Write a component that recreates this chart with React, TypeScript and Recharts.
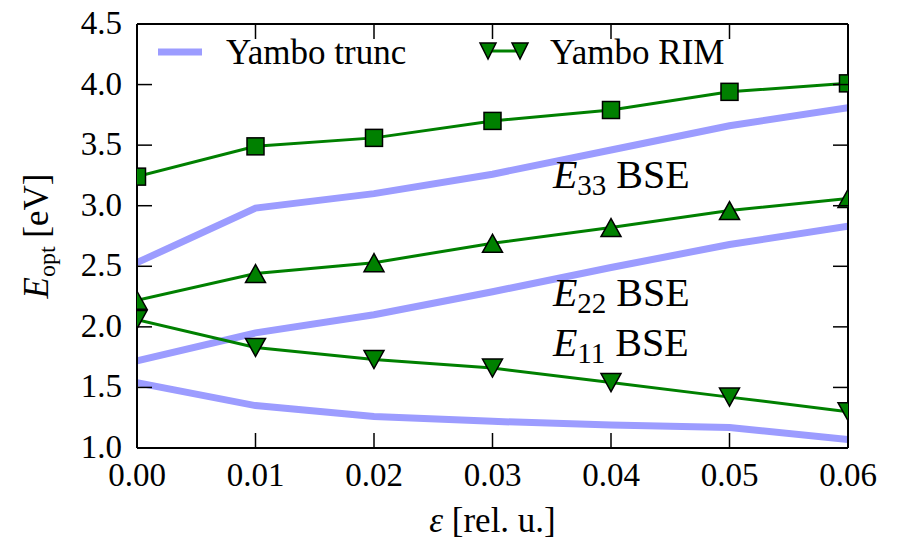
import React from 'react';
import { LineChart, Line, XAxis, YAxis, Legend, ReferenceDot } from 'recharts';

const strain = [0.0, 0.01, 0.02, 0.03, 0.04, 0.05, 0.06];
const e33Rim = [3.24, 3.49, 3.56, 3.70, 3.79, 3.94, 4.01];
const e33Trunc = [2.53, 2.98, 3.10, 3.26, 3.46, 3.66, 3.81];
const e22Rim = [2.22, 2.44, 2.53, 2.69, 2.82, 2.96, 3.06];
const e22Trunc = [1.72, 1.95, 2.10, 2.29, 2.49, 2.68, 2.83];
const e11Rim = [2.06, 1.83, 1.73, 1.66, 1.54, 1.42, 1.30];
const e11Trunc = [1.54, 1.35, 1.26, 1.22, 1.19, 1.17, 1.07];

const xTicks = [0, 0.01, 0.02, 0.03, 0.04, 0.05, 0.06];
const yTicks = [1.0, 1.5, 2.0, 2.5, 3.0, 3.5, 4.0, 4.5];

const legendLabels = ['Yambo trunc', 'Yambo RIM'];
const annotations = [
  { x: 0.0351, y: 3.146, sub: '33', text: ' BSE' },
  { x: 0.0351, y: 2.172, sub: '22', text: ' BSE' },
  { x: 0.0351, y: 1.759, sub: '11', text: ' BSE' },
];

const data = strain.map((s, i) => ({
  s,
  e33Rim: e33Rim[i],
  e33Trunc: e33Trunc[i],
  e22Rim: e22Rim[i],
  e22Trunc: e22Trunc[i],
  e11Rim: e11Rim[i],
  e11Trunc: e11Trunc[i],
}));

const FONT = '"Liberation Serif", "Times New Roman", Times, serif';
const GREEN = '#008000';
const BLUE = '#9c9cff';
const TICK_LEN = 15;
const TICK_W = 1.5;

const SquareDot = (props: any) => {
  const { cx, cy, index } = props;
  if (cx == null || cy == null) return <g key={`sq-${index}`} />;
  return (
    <rect key={`sq-${index}`} x={cx - 8.5} y={cy - 8.5} width={17} height={17}
      fill={GREEN} stroke="#000" strokeWidth={1.5} />
  );
};

const TriUpDot = (props: any) => {
  const { cx, cy, index } = props;
  if (cx == null || cy == null) return <g key={`tu-${index}`} />;
  return (
    <polygon key={`tu-${index}`}
      points={`${cx},${cy - 9} ${cx - 10},${cy + 9} ${cx + 10},${cy + 9}`}
      fill={GREEN} stroke="#000" strokeWidth={1.5} />
  );
};

const TriDownDot = (props: any) => {
  const { cx, cy, index } = props;
  if (cx == null || cy == null) return <g key={`td-${index}`} />;
  return (
    <polygon key={`td-${index}`}
      points={`${cx},${cy + 9} ${cx - 10},${cy - 9} ${cx + 10},${cy - 9}`}
      fill={GREEN} stroke="#000" strokeWidth={1.5} />
  );
};

// bottom axis: tickSize 0, tickMargin 14 -> axis line at y - 14
const BottomTick = (props: any) => {
  const { x, y, payload } = props;
  const axisY = y - 14;
  return (
    <g>
      <line x1={x} y1={axisY} x2={x} y2={axisY - TICK_LEN} stroke="#000" strokeWidth={TICK_W} />
      <text x={x} y={y + 24} textAnchor="middle" fontSize={33} fontFamily={FONT} fill="#000">
        {Number(payload.value).toFixed(2)}
      </text>
    </g>
  );
};

// left axis: tickSize 0, tickMargin 15 -> axis line at x + 15
const LeftTick = (props: any) => {
  const { x, y, payload } = props;
  const axisX = x + 15;
  return (
    <g>
      <line x1={axisX} y1={y} x2={axisX + TICK_LEN} y2={y} stroke="#000" strokeWidth={TICK_W} />
      <text x={x} y={y + 10} textAnchor="end" fontSize={33} fontFamily={FONT} fill="#000">
        {Number(payload.value).toFixed(1)}
      </text>
    </g>
  );
};

const TopTick = (props: any) => {
  const { x, y } = props;
  return <line x1={x} y1={y} x2={x} y2={y + TICK_LEN} stroke="#000" strokeWidth={TICK_W} />;
};

const RightTick = (props: any) => {
  const { x, y } = props;
  return <line x1={x} y1={y} x2={x - TICK_LEN} y2={y} stroke="#000" strokeWidth={TICK_W} />;
};

const LegendContent = () => (
  <svg width={720} height={50} style={{ overflow: 'visible' }}>
    <line x1={8} y1={25} x2={52} y2={25} stroke={BLUE} strokeWidth={7} />
    <text x={76} y={37} fontSize={35} fontFamily={FONT} fill="#000">{legendLabels[0]}</text>
    <line x1={338} y1={24} x2={370} y2={24} stroke={GREEN} strokeWidth={3} />
    <polygon points={`338,32 330,16 346,16`} fill={GREEN} stroke="#000" strokeWidth={1.5} />
    <polygon points={`370,32 362,16 378,16`} fill={GREEN} stroke="#000" strokeWidth={1.5} />
    <text x={400} y={37} fontSize={35} fontFamily={FONT} fill="#000">{legendLabels[1]}</text>
  </svg>
);

const YLabel = (props: any) => {
  const vb = props.viewBox || { x: 0, y: 24, width: 137, height: 424 };
  const cx = 48;
  const cy = vb.y + vb.height / 2;
  return (
    <text x={cx} y={cy} transform={`rotate(-90, ${cx}, ${cy})`} textAnchor="middle"
      fontSize={35} fontFamily={FONT} fill="#000">
      <tspan fontStyle="italic">E</tspan>
      <tspan dy={7} fontSize={24}>opt</tspan>
      <tspan dy={-7}> [eV]</tspan>
    </text>
  );
};

const XLabel = (props: any) => {
  const vb = props.viewBox || { x: 137, y: 448, width: 711, height: 96 };
  const cx = vb.x + vb.width / 2;
  const cy = 532;
  return (
    <text x={cx} y={cy} textAnchor="middle" fontSize={35} fontFamily={FONT} fill="#000">
      <tspan fontStyle="italic">ε</tspan>
      <tspan> [rel. u.]</tspan>
    </text>
  );
};

const AnnotationShape = (a: { sub: string; text: string }) => (props: any) => {
  const { cx, cy } = props;
  return (
    <text x={cx} y={cy} fontSize={40} fontFamily={FONT} fill="#000">
      <tspan fontStyle="italic">E</tspan>
      <tspan dy={7} fontSize={29}>{a.sub}</tspan>
      <tspan dy={-7}>{a.text}</tspan>
    </text>
  );
};

const axisLineStyle = { stroke: '#000', strokeWidth: 2 };

export default function App() {
  return (
    <div style={{ position: 'absolute', left: 0, top: 0, background: '#fff', fontFamily: FONT }}>
      <LineChart width={897} height={544} data={data}
        margin={{ top: 4, right: 29, bottom: 0, left: 0 }}>
        <XAxis dataKey="s" type="number" domain={[0, 0.06]} ticks={xTicks}
          allowDataOverflow interval={0}
          tick={<BottomTick />} tickSize={0} tickMargin={14} height={96}
          axisLine={axisLineStyle} tickLine={false}
          label={<XLabel />} />
        <XAxis xAxisId="top" dataKey="s" orientation="top" type="number" domain={[0, 0.06]} ticks={xTicks}
          allowDataOverflow interval={0} tick={<TopTick />} tickSize={0} tickMargin={0} height={20}
          axisLine={axisLineStyle} tickLine={false} />
        <YAxis type="number" domain={[1, 4.5]} ticks={yTicks} allowDataOverflow interval={0}
          tick={<LeftTick />} tickSize={0} tickMargin={15} width={137}
          axisLine={axisLineStyle} tickLine={false}
          label={<YLabel />} />
        <YAxis yAxisId="right" orientation="right" type="number" domain={[1, 4.5]} ticks={yTicks}
          allowDataOverflow interval={0} tick={<RightTick />} tickSize={0} tickMargin={0} width={20}
          axisLine={axisLineStyle} tickLine={false} />

        <Line dataKey="e33Trunc" stroke={BLUE} strokeWidth={7} dot={false} activeDot={false} isAnimationActive={false} />
        <Line dataKey="e22Trunc" stroke={BLUE} strokeWidth={7} dot={false} activeDot={false} isAnimationActive={false} />
        <Line dataKey="e11Trunc" stroke={BLUE} strokeWidth={7} dot={false} activeDot={false} isAnimationActive={false} />
        <Line dataKey="e33Rim" stroke={GREEN} strokeWidth={3} dot={SquareDot} activeDot={false} isAnimationActive={false} />
        <Line dataKey="e22Rim" stroke={GREEN} strokeWidth={3} dot={TriUpDot} activeDot={false} isAnimationActive={false} />
        <Line dataKey="e11Rim" stroke={GREEN} strokeWidth={3} dot={TriDownDot} activeDot={false} isAnimationActive={false} />

        {annotations.map((a, i) => (
          <ReferenceDot key={i} x={a.x} y={a.y} r={0} shape={AnnotationShape(a)} />
        ))}

        <Legend layout="vertical" align="center" verticalAlign="middle"
          content={<LegendContent />}
          wrapperStyle={{ position: 'absolute', left: 150, top: 27, width: 720, height: 50 }} />
      </LineChart>
    </div>
  );
}
